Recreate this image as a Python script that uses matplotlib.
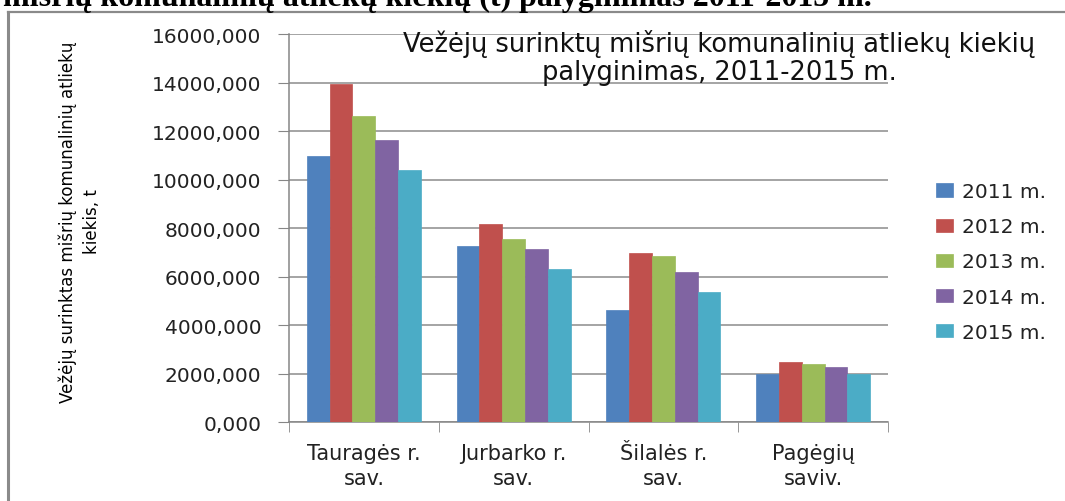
import numpy as np
import matplotlib
matplotlib.use("Agg")
import matplotlib.pyplot as plt
from matplotlib.lines import Line2D
from matplotlib.ticker import FuncFormatter, FixedLocator

# Data (tonnes)
categories = ["Tauragės r.\nsav.", "Jurbarko r.\nsav.", "Šilalės r.\nsav.", "Pagėgių\nsaviv."]
years = ["2011 m.", "2012 m.", "2013 m.", "2014 m.", "2015 m."]
v2011 = [10990, 7280, 4630, 2005]
v2012 = [13920, 8170, 6980, 2470]
v2013 = [12640, 7560, 6870, 2400]
v2014 = [11640, 7130, 6190, 2290]
v2015 = [10410, 6320, 5360, 2005]
series = [v2011, v2012, v2013, v2014, v2015]
colors = ["#4F81BD", "#C0504D", "#9BBB59", "#8064A2", "#4BACC6"]

chart_title = "Vežėjų surinktų mišrių komunalinių atliekų kiekių\npalyginimas, 2011-2015 m."
y_label = "Vežėjų surinktas mišrių komunalinių atliekų\nkiekis, t"
page_text = "mišrių komunalinių atliekų kiekių (t) palyginimas 2011-2015 m."

W, H = 1065, 502
fig = plt.figure(figsize=(W / 100, H / 100), dpi=100)

# cropped document heading above the chart (only its lower part shows)
fig.text(3 / W, 1 - 6 / H, page_text, family=["Liberation Serif", "DejaVu Serif"],
         weight="bold", fontsize=23, ha="left", va="baseline")

# chart frame (only left and top edges visible)
frame_col = "#8a8a8a"
fig.add_artist(Line2D([8 / W, 8 / W], [0, 1 - 13 / H], color=frame_col, lw=2.2))
fig.add_artist(Line2D([8 / W, 1], [1 - 13 / H, 1 - 13 / H], color=frame_col, lw=1.6))

ax = fig.add_axes([289 / W, 1 - 423.3 / H, (888 - 289) / W, (423.3 - 35) / H])

x = np.arange(len(categories))
bw = 0.152
for j, (vals, col, lab) in enumerate(zip(series, colors, years)):
    ax.bar(x + (j - 2) * bw, vals, width=bw, color=col, label=lab,
           edgecolor=col, linewidth=0.5, zorder=3)

ax.set_xlim(-0.5, len(categories) - 0.5)
ax.set_ylim(0, 16000)
ax.yaxis.set_major_locator(FixedLocator(np.arange(0, 16001, 2000)))
ax.yaxis.set_major_formatter(FuncFormatter(lambda v, p: f"{v:.3f}".replace(".", ",")))
ax.grid(axis="y", color="#8c8c8c", lw=1.1, zorder=0)

ax.set_xticks(x)
ax.set_xticklabels(categories, fontsize=15, linespacing=1.3)
ax.set_xticks(np.arange(-0.5, len(categories), 1), minor=True)
ax.tick_params(axis="x", which="major", length=0, pad=15)
ax.tick_params(axis="x", which="minor", length=7, color="#868686", direction="out")
ax.tick_params(axis="y", length=8, color="#868686", direction="out", labelsize=14.5, pad=12)
for lbl in ax.get_yticklabels() + ax.get_xticklabels():
    lbl.set_color("#222222")

for s in ["top", "right"]:
    ax.spines[s].set_visible(False)
for s in ["left", "bottom"]:
    ax.spines[s].set_color("#868686")
    ax.spines[s].set_linewidth(1.1)

fig.text(719 / W, 1 - 58 / H, chart_title, fontsize=18.5, ha="center", va="center",
         linespacing=1.12, color="#111111")

fig.text(80 / W, 1 - 222 / H, y_label, rotation=90, ha="center", va="center",
         fontsize=12, multialignment="center", linespacing=1.45)

fig.legend(loc="center left", bbox_to_anchor=(926 / W, 1 - 263 / H), frameon=False,
           fontsize=14.5, handlelength=0.85, handleheight=0.65, handletextpad=0.45,
           labelspacing=0.8, borderpad=0, labelcolor="#222222")

fig.savefig("out.png", dpi=100)
